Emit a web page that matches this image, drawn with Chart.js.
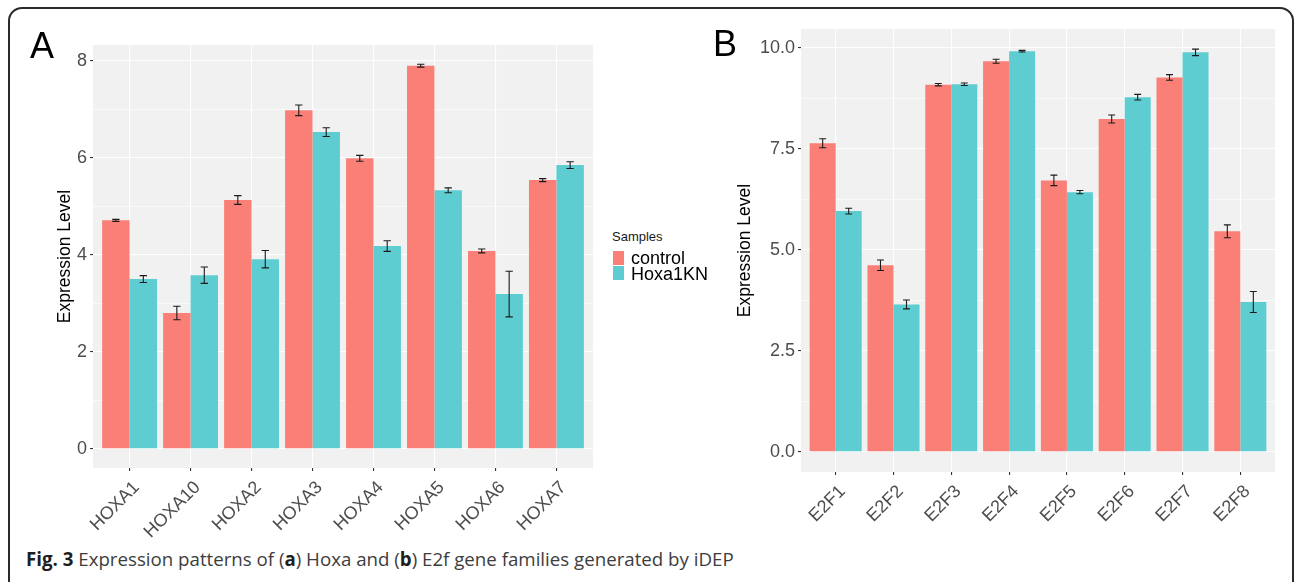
<!DOCTYPE html>
<html>
<head>
<meta charset="utf-8">
<script src="https://cdn.jsdelivr.net/npm/chart.js@4.4.1/dist/chart.umd.min.js"></script>
<style>
  html, body { margin: 0; padding: 0; background: #fff; }
  body { width: 1295px; height: 582px; position: relative; overflow: hidden; font-family: 'Liberation Sans', Arial, sans-serif; }
  #frame { position: absolute; left: 8px; top: 7px; width: 1286px; height: 640px; box-sizing: border-box;
           border: 2px solid #2a2a2a; border-radius: 14px; }
  canvas { position: absolute; }
  #chartA { left: 0; top: 0; }
  #chartB { left: 700px; top: 0; }
  .panel-tag { position: absolute; font-size: 36px; line-height: 1; color: #000; }
  #legend { position: absolute; left: 612px; top: 230px; }
  #legend .ttl { position: absolute; left: 0; top: 0; font-size: 13px; line-height: 1; color: #1a1a1a; white-space: nowrap; }
  #legend .key { position: absolute; left: 1px; width: 11px; }
  #legend .lab { position: absolute; left: 19px; font-size: 18px; line-height: 1; color: #000; white-space: nowrap; }
  #caption { position: absolute; left: 26px; top: 550px; font-family: 'Open Sans', 'Noto Sans', sans-serif;
             font-size: 18.7px; line-height: 1; color: #3d3d3d; white-space: nowrap; }
  #caption b { color: #1e1e1e; }
</style>
</head>
<body>
<div id="frame"></div>
<canvas id="chartA" width="600" height="545"></canvas>
<canvas id="chartB" width="590" height="545"></canvas>
<div class="panel-tag" style="left:30px; top:28px;">A</div>
<div class="panel-tag" style="left:713px; top:26px;">B</div>
<div id="legend"></div>
<div id="caption"><b>Fig. 3</b> Expression patterns of (<b>a</b>) Hoxa and (<b>b</b>) E2f gene families generated by iDEP</div>

<script>
// Sample groups
const seriesNames = ['control', 'Hoxa1KN'];
const seriesColors = ['#FA7F77', '#5ECDD1'];

// Panel A: Hoxa family
const hoxaGenes = ['HOXA1', 'HOXA10', 'HOXA2', 'HOXA3', 'HOXA4', 'HOXA5', 'HOXA6', 'HOXA7'];
const hoxaControl    = [4.71, 2.80, 5.13, 6.98, 5.99, 7.90, 4.08, 5.54];
const hoxaControlErr = [0.02, 0.14, 0.09, 0.11, 0.06, 0.03, 0.04, 0.03];
const hoxaKN         = [3.50, 3.58, 3.91, 6.53, 4.18, 5.33, 3.19, 5.85];
const hoxaKNErr      = [0.07, 0.17, 0.18, 0.09, 0.11, 0.05, 0.47, 0.07];
const hoxaTicks      = [0, 2, 4, 6, 8];

// Panel B: E2f family
const e2fGenes = ['E2F1', 'E2F2', 'E2F3', 'E2F4', 'E2F5', 'E2F6', 'E2F7', 'E2F8'];
const e2fControl    = [7.64, 4.62, 9.09, 9.67, 6.72, 8.24, 9.27, 5.46];
const e2fControlErr = [0.11, 0.13, 0.03, 0.05, 0.13, 0.10, 0.07, 0.16];
const e2fKN         = [5.96, 3.65, 9.10, 9.92, 6.43, 8.78, 9.89, 3.71];
const e2fKNErr      = [0.07, 0.11, 0.03, 0.02, 0.04, 0.07, 0.08, 0.26];
const e2fTicks      = [0, 2.5, 5, 7.5, 10];

const FONT = "'Liberation Sans', Arial, sans-serif";

// Legend built from the series definitions
(function buildLegend() {
  const lg = document.getElementById('legend');
  const t = document.createElement('div');
  t.className = 'ttl'; t.textContent = 'Samples';
  lg.appendChild(t);
  seriesNames.forEach((name, i) => {
    const k = document.createElement('div');
    k.className = 'key';
    k.style.top = (21 + i * 15) + 'px';
    k.style.height = '13.8px';
    k.style.background = seriesColors[i];
    lg.appendChild(k);
    const l = document.createElement('div');
    l.className = 'lab';
    l.style.top = (19 + i * 15.7) + 'px';
    l.textContent = name;
    lg.appendChild(l);
  });
})();

// Grey panel behind the plotting region
const panelBackground = {
  id: 'panelBackground',
  beforeDraw(chart) {
    const { ctx, chartArea: a } = chart;
    ctx.save();
    ctx.fillStyle = '#F1F1F1';
    ctx.fillRect(a.left, a.top, a.right - a.left, a.bottom - a.top);
    ctx.restore();
  }
};

// Mean +/- error whiskers on each bar
const errorBars = {
  id: 'errorBars',
  afterDatasetsDraw(chart) {
    const { ctx } = chart;
    const xs = chart.scales.x, ys = chart.scales.y;
    const half = (xs.getPixelForValue(1.06) - xs.getPixelForValue(1));
    ctx.save();
    ctx.strokeStyle = '#1b1b1b';
    ctx.lineWidth = 1.1;
    chart.data.datasets.forEach((ds, di) => {
      const meta = chart.getDatasetMeta(di);
      meta.data.forEach((bar, i) => {
        const v = ds.data[i].y, e = ds.errors[i];
        const yTop = ys.getPixelForValue(v + e);
        const yBot = ys.getPixelForValue(v - e);
        const x = bar.x;
        ctx.beginPath();
        ctx.moveTo(x, yTop); ctx.lineTo(x, yBot);
        ctx.moveTo(x - half, yTop); ctx.lineTo(x + half, yTop);
        ctx.moveTo(x - half, yBot); ctx.lineTo(x + half, yBot);
        ctx.stroke();
      });
    });
    ctx.restore();
  }
};

function makeChart(canvasId, genes, ctrl, ctrlErr, kn, knErr, majorTicks, fmt, layout) {
  // y range: data span plus 5% headroom on each side
  const top = Math.max(...ctrl.map((v, i) => v + ctrlErr[i]), ...kn.map((v, i) => v + knErr[i]));
  const yMin = -0.05 * top, yMax = 1.05 * top;
  const step = majorTicks[1] - majorTicks[0];
  const allTicks = [];
  majorTicks.forEach((t, i) => {
    allTicks.push({ value: t, major: true });
    if (i < majorTicks.length - 1) allTicks.push({ value: t + step / 2, major: false });
  });
  const isMajor = (v) => majorTicks.some(t => Math.abs(t - v) < 1e-9);

  const toPoints = (arr) => arr.map((v, i) => ({ x: i + 1, y: v }));

  return new Chart(document.getElementById(canvasId), {
    type: 'bar',
    data: {
      datasets: [
        { label: seriesNames[0], data: toPoints(ctrl), errors: ctrlErr, backgroundColor: seriesColors[0], borderWidth: 0 },
        { label: seriesNames[1], data: toPoints(kn), errors: knErr, backgroundColor: seriesColors[1], borderWidth: 0 }
      ]
    },
    options: {
      responsive: false,
      animation: false,
      devicePixelRatio: 1,
      categoryPercentage: 0.9,
      barPercentage: 1.0,
      layout: { padding: layout.padding },
      plugins: { legend: { display: false }, tooltip: { enabled: false } },
      scales: {
        x: {
          type: 'linear',
          offset: false,
          min: 0.4, max: genes.length + 0.6,
          afterBuildTicks: (s) => { s.ticks = genes.map((g, i) => ({ value: i + 1 })); },
          afterFit: (s) => { s.height = layout.xHeight; },
          border: { display: false },
          grid: { offset: false, color: '#FFFFFF', lineWidth: 1.1, tickColor: '#333333', tickLength: 3, drawTicks: true },
          ticks: {
            autoSkip: false, minRotation: 45, maxRotation: 45, padding: 6, labelOffset: 7,
            color: '#4D4D4D', font: { family: FONT, size: 18 },
            callback: (v) => genes[Math.round(v) - 1]
          }
        },
        y: {
          type: 'linear',
          min: yMin, max: yMax,
          afterBuildTicks: (s) => { s.ticks = allTicks.map(t => ({ value: t.value })); },
          afterFit: (s) => { s.width = layout.yWidth; },
          border: { display: false },
          grid: {
            color: '#FFFFFF',
            lineWidth: (c) => (c.tick && isMajor(c.tick.value)) ? 1.1 : 0.6,
            tickColor: (c) => (c.tick && isMajor(c.tick.value)) ? '#333333' : 'rgba(0,0,0,0)',
            tickLength: 3
          },
          ticks: {
            padding: 3, color: '#4D4D4D', font: { family: FONT, size: 18 },
            callback: (v) => isMajor(v) ? fmt(v) : ''
          },
          title: {
            display: true, text: 'Expression Level', color: '#000',
            font: { family: FONT, size: 17.5 }, padding: { top: layout.titlePad, bottom: 0 }
          }
        }
      }
    },
    plugins: [panelBackground, errorBars]
  });
}

makeChart('chartA', hoxaGenes, hoxaControl, hoxaControlErr, hoxaKN, hoxaKNErr, hoxaTicks,
  (v) => String(v),
  { padding: { top: 45, right: 7, left: 0, bottom: 0 }, xHeight: 77, yWidth: 93, titlePad: 55 });

makeChart('chartB', e2fGenes, e2fControl, e2fControlErr, e2fKN, e2fKNErr, e2fTicks,
  (v) => v.toFixed(1),
  { padding: { top: 29, right: 15, left: 0, bottom: 0 }, xHeight: 73, yWidth: 101, titlePad: 35 });
</script>
</body>
</html>
